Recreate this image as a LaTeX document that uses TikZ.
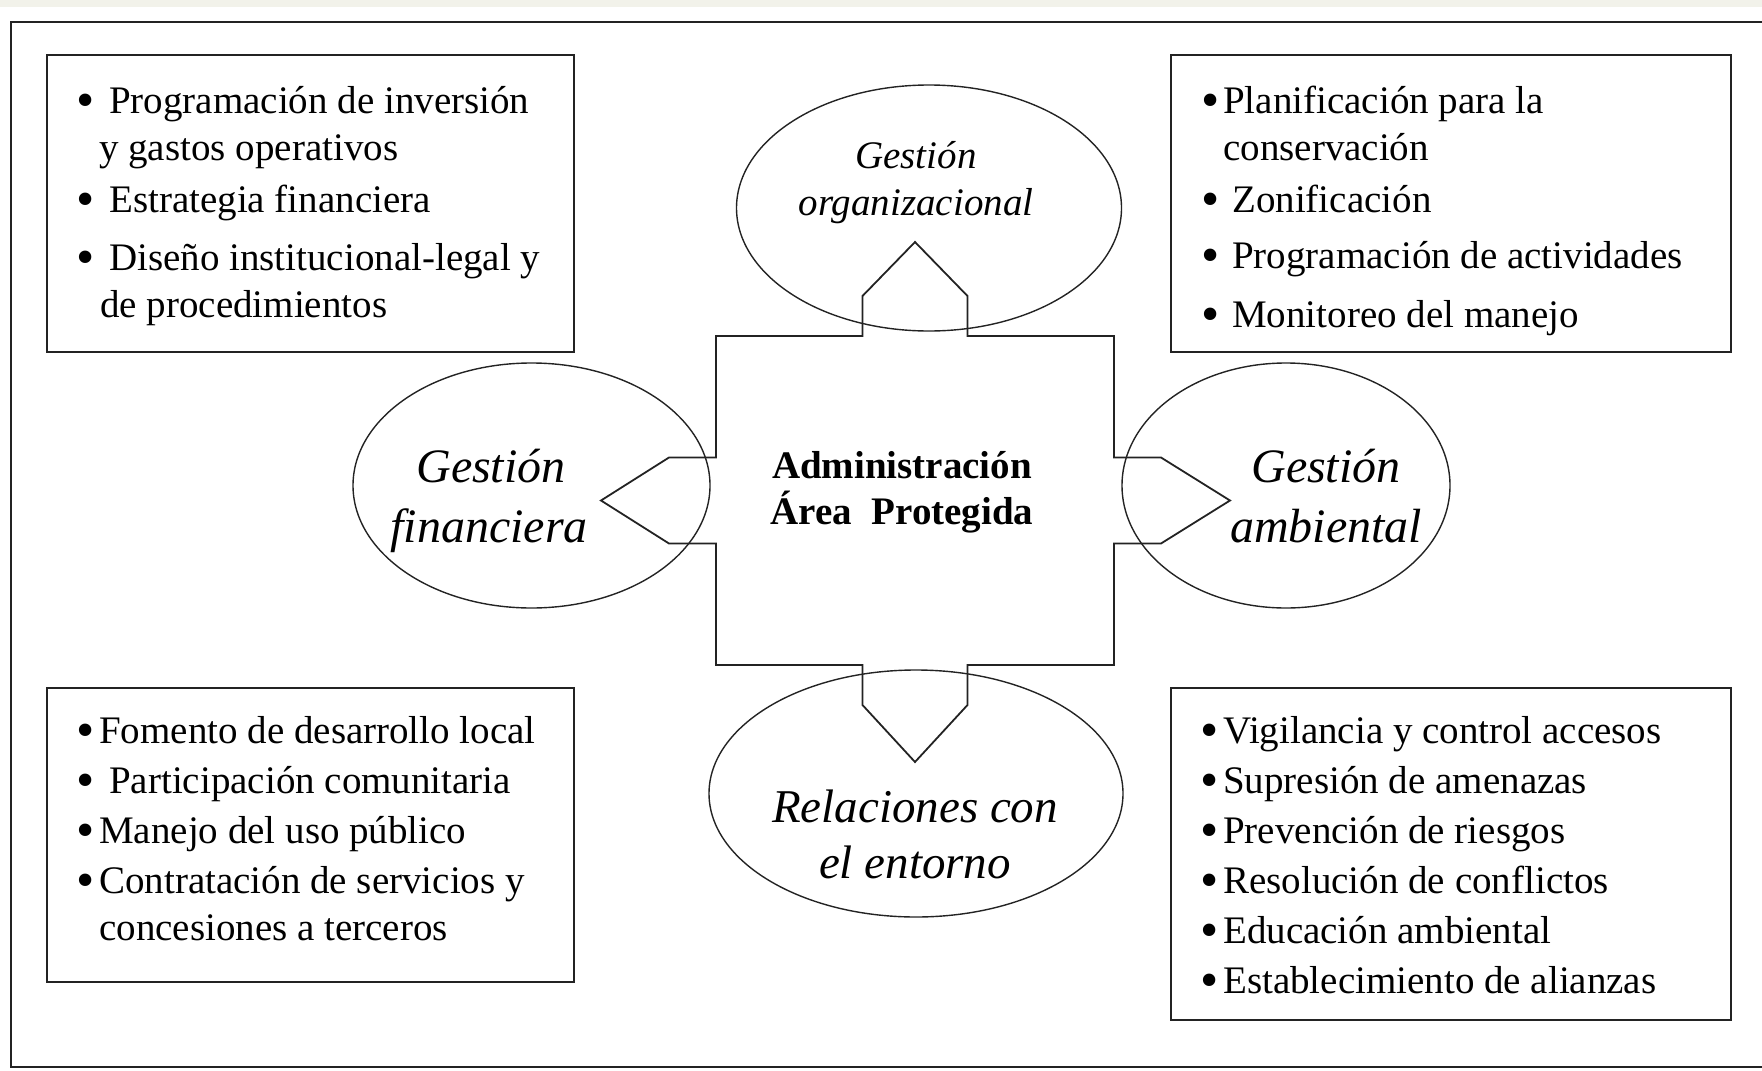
\documentclass[tikz,border=0pt]{standalone}
\usepackage{fontspec}
\setmainfont{Liberation Serif}
\usetikzlibrary{shapes.geometric,positioning}
\definecolor{strip}{RGB}{242,242,234}
\definecolor{ink}{RGB}{35,35,35}

\begin{document}
\begin{tikzpicture}
    [x=1pt,y=-1pt,line join=miter,
     frame/.style={draw=ink,line width=1.8pt},
     listbox/.style={draw=ink,line width=1.8pt,inner sep=0pt},
     oval/.style={ellipse,draw=ink,line width=1.4pt,inner sep=0pt},
     item/.style={anchor=base west,inner sep=0pt,font=\fontsize{39}{47}\selectfont},
     dot/.style={anchor=base,inner sep=0pt,yshift=-4pt,font=\fontsize{52}{60}\selectfont},
     lbl/.style={anchor=base,inner sep=0pt,font=\itshape\fontsize{48}{58}\selectfont},
     lblsmall/.style={lbl,font=\itshape\fontsize{39}{47}\selectfont},
     title/.style={anchor=base,inner sep=0pt,font=\bfseries\fontsize{39}{47}\selectfont}]
    \useasboundingbox (0,0) rectangle (1762,1071);
    \fill[strip] (0,0) rectangle (1762,7);
    \draw[frame] (1762,22) -- (11,22) -- (11,1067) -- (1762,1067);

    % the four lists
    \node[listbox,minimum width=527pt,minimum height=297pt] (inv) at (310.5,203.5) {};
    \node[listbox,minimum width=560pt,minimum height=297pt] (plan) at (1451,203.5) {};
    \node[listbox,minimum width=527pt,minimum height=294pt] (local) at (310.5,835) {};
    \node[listbox,minimum width=560pt,minimum height=332pt] (vig) at (1451,854) {};

    \foreach \y in {113,212,270,743,793,843,893} {
      \node[dot] (bl\y) at (86,\y) {•};
    }
    \foreach \y in {113,212,268,327} {
      \node[dot] (br\y) at (1211,\y) {•};
    }
    \foreach \y in {743,793,843,893,943,993} {
      \node[dot] (bv\y) at (1210,\y) {•};
    }

    \foreach \x/\y/\t in {109/113/{Programación de inversión},
        99/160/{y gastos operativos}, 109/212/{Estrategia financiera},
        109/270/{Diseño institucional-legal y}, 100/317/{de procedimientos}} {
      \node[item] (inv\y) at (\x,\y) {\t};
    }
    \foreach \x/\y/\t in {1223/113/{Planificación para la},
        1223/160/{conservación}, 1232/212/{Zonificación},
        1232/268/{Programación de actividades}, 1232/327/{Monitoreo del manejo}} {
      \node[item] (plan\y) at (\x,\y) {\t};
    }
    \foreach \x/\y/\t in {99/743/{Fomento de desarrollo local},
        109/793/{Participación comunitaria}, 99/843/{Manejo del uso público},
        99/893/{Contratación de servicios y}, 99/940/{concesiones a terceros}} {
      \node[item] (local\y) at (\x,\y) {\t};
    }
    \foreach \y/\t in {743/{Vigilancia y control accesos},
        793/{Supresión de amenazas}, 843/{Prevención de riesgos},
        893/{Resolución de conflictos}, 943/{Educación ambiental},
        993/{Establecimiento de alianzas}} {
      \node[item] (vig\y) at (1223,\y) {\t};
    }

    % the four areas
    \node[oval,minimum width=385pt,minimum height=246pt] (org) at (929,208) {};
    \node[oval,minimum width=357pt,minimum height=245pt] (fin) at (531.5,485.5) {};
    \node[oval,minimum width=328pt,minimum height=245pt] (amb) at (1286,485.5) {};
    \node[oval,minimum width=414pt,minimum height=247pt] (ent) at (916,793.5) {};

    \node[lblsmall] (org1) at (916,168) {Gestión};
    \node[lblsmall] (org2) at (916,215) {organizacional};
    \node[lbl] (fin1) at (491,482) {Gestión};
    \node[lbl] (fin2) at (489,542) {financiera};
    \node[lbl] (amb1) at (1326,482) {Gestión};
    \node[lbl] (amb2) at (1326,542) {ambiental};
    \node[lbl,font=\itshape\fontsize{47}{56}\selectfont] (ent1) at (915,822) {Relaciones con};
    \node[lbl,font=\itshape\fontsize{47}{56}\selectfont] (ent2) at (915,878) {el entorno};

    % centre with its four arrows
    \draw[frame] (716,336) -- (862.5,336) -- (862.5,296) -- (915,242)
      -- (967.5,296) -- (967.5,336) -- (1114,336) -- (1114,457.5)
      -- (1161,457.5) -- (1230,500.5) -- (1161,543.5) -- (1114,543.5)
      -- (1114,665) -- (967.5,665) -- (967.5,705) -- (915,762)
      -- (862.5,705) -- (862.5,665) -- (716,665) -- (716,543.5)
      -- (669,543.5) -- (601,500.5) -- (669,457.5) -- (716,457.5) -- cycle;
    \node[title] (adm1) at (902,478) {Administración};
    \node[title] (adm2) at (902,524) {Área~~Protegida};
\end{tikzpicture}
\end{document}
